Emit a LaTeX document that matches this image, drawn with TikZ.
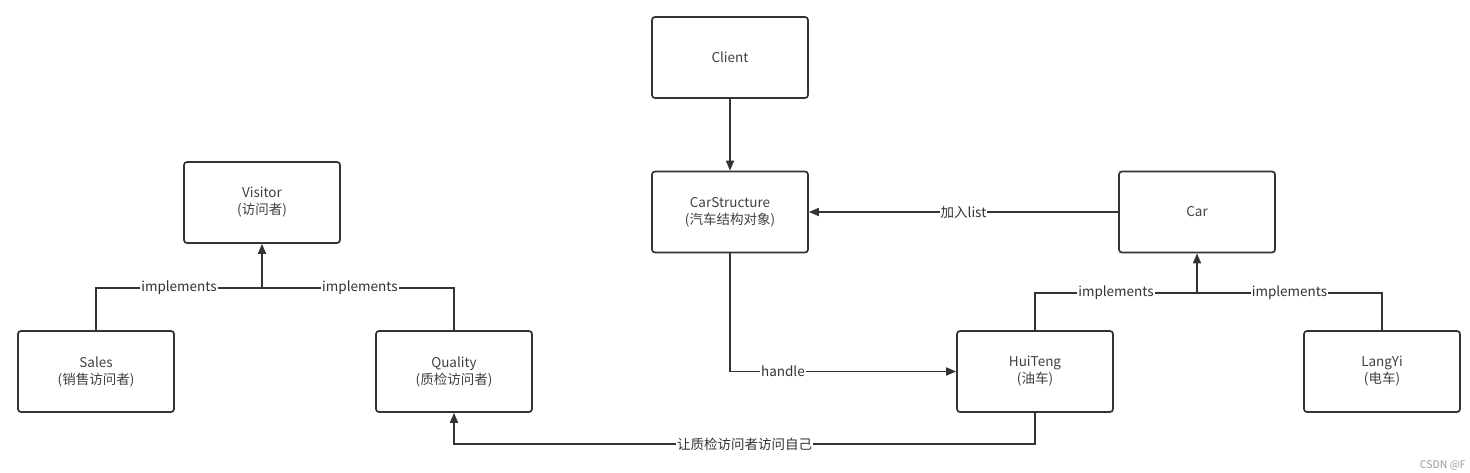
\documentclass[tikz,border=0pt]{standalone}
\usepackage{fontspec}
\setmainfont{Noto Sans CJK SC}
\usetikzlibrary{arrows.meta}
\begin{document}
\begin{tikzpicture}[x=1pt,y=-1pt,
 box/.style={draw=black!80, line width=1.7pt, rounded corners=3pt, minimum width=156pt, minimum height=81pt, align=center, font=\fontsize{13.5}{17}\selectfont, text=black!75, inner sep=0pt},
 conn/.style={draw=black!80, line width=1.7pt},
 arr/.style={conn, -{Triangle[length=10pt,width=8pt]}},
 lab/.style={fill=white, inner sep=1pt, font=\fontsize{13.5}{15}\selectfont, text=black!80},
]
\useasboundingbox (0,0) rectangle (1470,473);
\node[box] (client) at (730,57.5) {Client};
\node[box] (cs) at (730,212) {CarStructure\\(汽车结构对象)};
\node[box] (car) at (1197,212) {Car};
\node[box] (visitor) at (262,202.5) {Visitor\\(访问者)};
\node[box] (sales) at (96,371.5) {Sales\\(销售访问者)};
\node[box] (qual) at (454,371.5) {Quality\\(质检访问者)};
\node[box] (hui) at (1035,371.5) {HuiTeng\\(油车)};
\node[box] (lang) at (1382,371.5) {LangYi\\(电车)};

\coordinate (vj) at (262,288);
\coordinate (cj) at (1197,293);
\coordinate (hb) at (1035,444);

\draw[arr] (client) -- (cs);
\draw[arr] (car.west) -- node[lab]{加入list} (cs.east);
\draw[arr] (cs.south) |- node[lab,pos=0.617]{handle} (hui.west);
\draw[arr] (hui.south) -- (hb) -| node[lab,pos=0.25]{让质检访问者访问自己} (qual.south);

\draw[arr] (vj) -- (visitor.south);
\draw[conn] (sales.north) |- node[lab,pos=0.75]{implements} (vj);
\draw[conn] (qual.north) |- node[lab,pos=0.745]{implements} (vj);

\draw[arr] (cj) -- (car.south);
\draw[conn] (hui.north) |- node[lab,pos=0.75]{implements} (cj);
\draw[conn] (lang.north) |- node[lab,pos=0.75]{implements} (cj);

\node[font=\fontsize{10.5}{12}\selectfont, text=black!40, anchor=east] (wm) at (1469,465) {CSDN @F};
\end{tikzpicture}
\end{document}
